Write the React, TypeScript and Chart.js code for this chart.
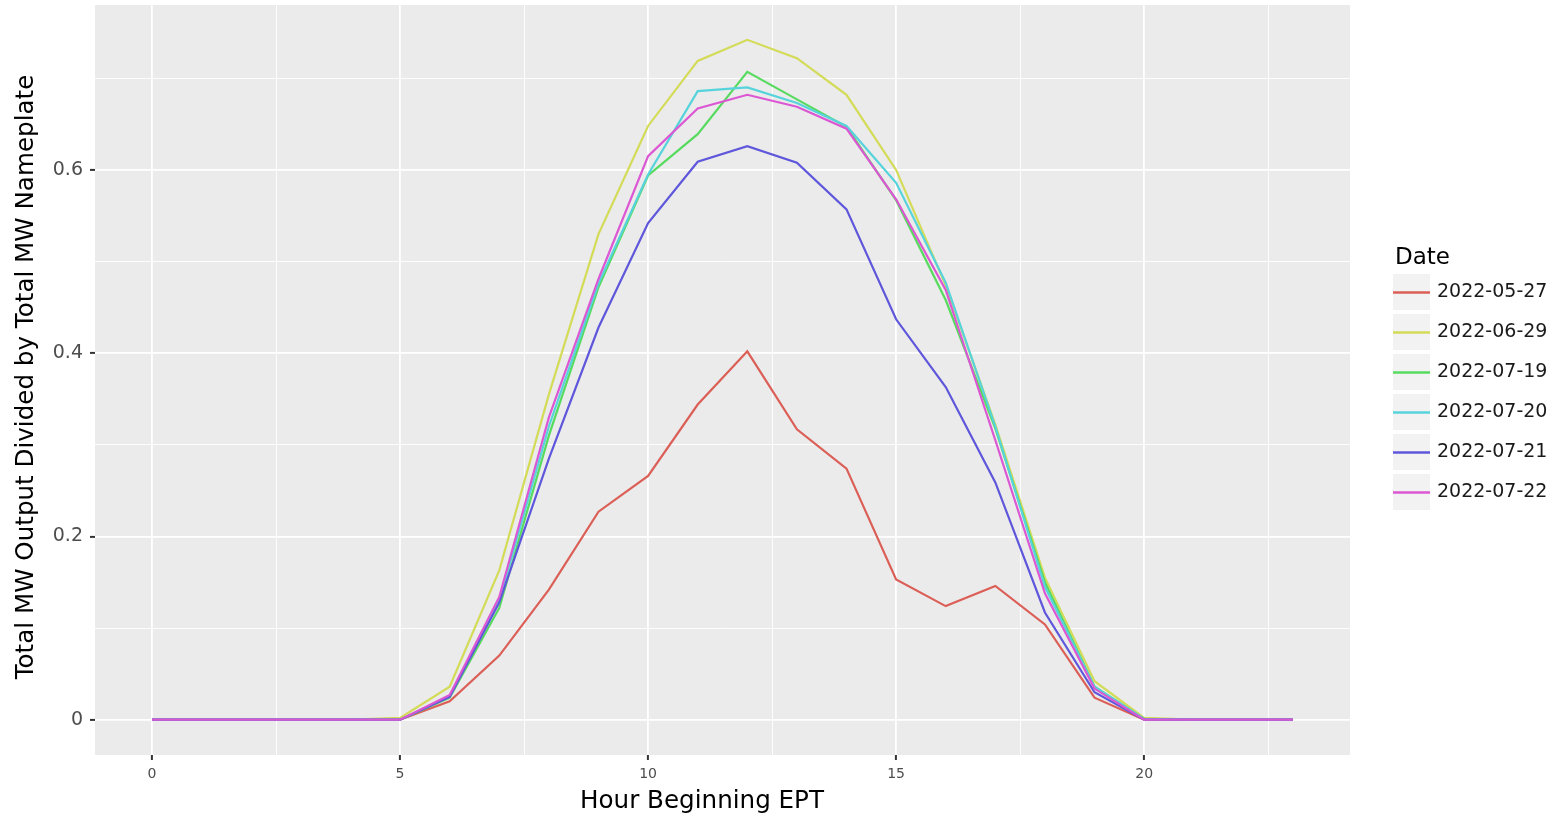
import React, { useEffect, useRef } from "react";
import { Chart, registerables } from "chart.js";

Chart.register(...registerables);

const hours = Array.from({ length: 24 }, (_, i) => i);
const seriesNames = ["2022-05-27", "2022-06-29", "2022-07-19", "2022-07-20", "2022-07-21", "2022-07-22"];
const seriesColors = ["#DB5F57", "#D3DB57", "#57DB5F", "#57D3DB", "#5F57DB", "#DB57D3"];

const s0527 = [0, 0, 0, 0, 0, 0, 0.020, 0.070, 0.142, 0.227, 0.266, 0.344, 0.402, 0.317, 0.274, 0.153, 0.124, 0.146, 0.104, 0.024, 0, 0, 0, 0];
const s0629 = [0, 0, 0, 0, 0, 0.002, 0.036, 0.163, 0.355, 0.530, 0.648, 0.719, 0.742, 0.722, 0.682, 0.600, 0.474, 0.322, 0.155, 0.042, 0.002, 0, 0, 0];
const s0719 = [0, 0, 0, 0, 0, 0, 0.024, 0.122, 0.310, 0.472, 0.594, 0.639, 0.707, 0.677, 0.647, 0.567, 0.458, 0.318, 0.150, 0.036, 0.001, 0, 0, 0];
const s0720 = [0, 0, 0, 0, 0, 0, 0.026, 0.130, 0.320, 0.476, 0.595, 0.686, 0.690, 0.673, 0.648, 0.586, 0.477, 0.320, 0.145, 0.036, 0.001, 0, 0, 0];
const s0721 = [0, 0, 0, 0, 0, 0, 0.025, 0.128, 0.285, 0.428, 0.542, 0.609, 0.626, 0.608, 0.557, 0.437, 0.363, 0.259, 0.117, 0.030, 0, 0, 0, 0];
const s0722 = [0, 0, 0, 0, 0, 0, 0.027, 0.134, 0.330, 0.481, 0.615, 0.667, 0.682, 0.669, 0.645, 0.568, 0.469, 0.305, 0.138, 0.034, 0, 0, 0, 0];
const seriesValues = [s0527, s0629, s0719, s0720, s0721, s0722];

const xTicks = [0, 2.5, 5, 7.5, 10, 12.5, 15, 17.5, 20, 22.5];
const xLabels = ["0", "", "5", "", "10", "", "15", "", "20", ""];
const yTicks = [0, 0.1, 0.2, 0.3, 0.4, 0.5, 0.6, 0.7];
const yLabels = ["0", "", "0.2", "", "0.4", "", "0.6", ""];

const xTitle = "Hour Beginning EPT";
const yTitle = "Total MW Output Divided by Total MW Nameplate";
const legendTitle = "Date";

const FONT = "'DejaVu Sans', sans-serif";

export default function App() {
  const ref = useRef<HTMLCanvasElement | null>(null);

  useEffect(() => {
    document.body.style.margin = "0";
    const canvas = ref.current;
    if (!canvas) return;

    const decorPlugin = {
      id: "decor",
      beforeDraw(chart: any) {
        const { ctx, chartArea } = chart;
        ctx.save();
        ctx.fillStyle = "#FFFFFF";
        ctx.fillRect(0, 0, chart.width, chart.height);
        ctx.fillStyle = "#EBEBEB";
        ctx.fillRect(chartArea.left, chartArea.top, chartArea.right - chartArea.left, chartArea.bottom - chartArea.top);
        ctx.restore();
      },
      afterDraw(chart: any) {
        const { ctx } = chart;
        ctx.save();
        ctx.fillStyle = "#000000";
        ctx.font = `24.6px ${FONT}`;
        ctx.textAlign = "center";
        ctx.textBaseline = "middle";
        ctx.fillText(xTitle, 702, 802);
        ctx.save();
        ctx.translate(27, 377);
        ctx.rotate(-Math.PI / 2);
        ctx.fillText(yTitle, 0, 0);
        ctx.restore();

        // legend
        ctx.textAlign = "left";
        ctx.font = `23px ${FONT}`;
        ctx.fillText(legendTitle, 1395, 258);
        ctx.font = `19px ${FONT}`;
        seriesNames.forEach((name, i) => {
          const cy = 292 + 40 * i;
          ctx.fillStyle = "#F2F2F2";
          ctx.fillRect(1393, cy - 18, 37, 36);
          ctx.strokeStyle = seriesColors[i];
          ctx.lineWidth = 2.5;
          ctx.beginPath();
          ctx.moveTo(1393, cy + 0.5);
          ctx.lineTo(1430, cy + 0.5);
          ctx.stroke();
          ctx.fillStyle = "#1A1A1A";
          ctx.fillText(name, 1437, cy);
        });
        ctx.restore();
      },
    };

    const chart = new Chart(canvas, {
      type: "line",
      data: {
        labels: hours,
        datasets: seriesNames.map((name, i) => ({
          label: name,
          data: hours.map((h, j) => ({ x: h, y: seriesValues[i][j] })),
          borderColor: seriesColors[i],
          backgroundColor: seriesColors[i],
          borderWidth: 2.2,
          pointRadius: 0,
          tension: 0,
          fill: false,
          order: seriesNames.length - i,
        })),
      },
      options: {
        animation: false,
        responsive: false,
        maintainAspectRatio: false,
        layout: { padding: { left: 0, top: 5, right: 202, bottom: 0 } },
        plugins: {
          legend: { display: false },
          tooltip: { enabled: false },
          title: { display: false },
        },
        scales: {
          x: {
            type: "linear",
            min: -1.15,
            max: 24.15,
            afterBuildTicks(scale: any) {
              scale.ticks = xTicks.map((v) => ({ value: v }));
            },
            afterFit(scale: any) {
              scale.height = 62;
              scale.paddingLeft = 0;
              scale.paddingRight = 0;
            },
            border: { display: false },
            grid: {
              color: "#FFFFFF",
              lineWidth: (c: any) => (c.index % 2 === 0 ? 1.8 : 0.9),
              tickColor: (c: any) => (c.index % 2 === 0 ? "#333333" : "rgba(0,0,0,0)"),
              tickLength: 5,
              tickWidth: 2,
            },
            ticks: {
              autoSkip: false,
              maxRotation: 0,
              padding: 6,
              color: "#4D4D4D",
              font: { family: FONT, size: 14 },
              callback: (_v: any, i: number) => xLabels[i],
            },
          },
          y: {
            type: "linear",
            min: -0.0385,
            max: 0.78,
            afterBuildTicks(scale: any) {
              scale.ticks = yTicks.map((v) => ({ value: v }));
            },
            afterFit(scale: any) {
              scale.width = 95;
              scale.paddingTop = 0;
              scale.paddingBottom = 0;
            },
            border: { display: false },
            grid: {
              color: "#FFFFFF",
              lineWidth: (c: any) => (c.index % 2 === 0 ? 1.8 : 0.9),
              tickColor: (c: any) => (c.index % 2 === 0 ? "#333333" : "rgba(0,0,0,0)"),
              tickLength: 5,
              tickWidth: 2,
            },
            ticks: {
              autoSkip: false,
              padding: 7,
              color: "#4D4D4D",
              font: { family: FONT, size: 19 },
              callback: (_v: any, i: number) => yLabels[i],
            },
          },
        },
      },
      plugins: [decorPlugin],
    });

    return () => chart.destroy();
  }, []);

  return (
    <div style={{ position: "absolute", left: 0, top: 0, width: 1552, height: 817 }}>
      <canvas ref={ref} width={1552} height={817} style={{ width: 1552, height: 817, display: "block" }} />
    </div>
  );
}
